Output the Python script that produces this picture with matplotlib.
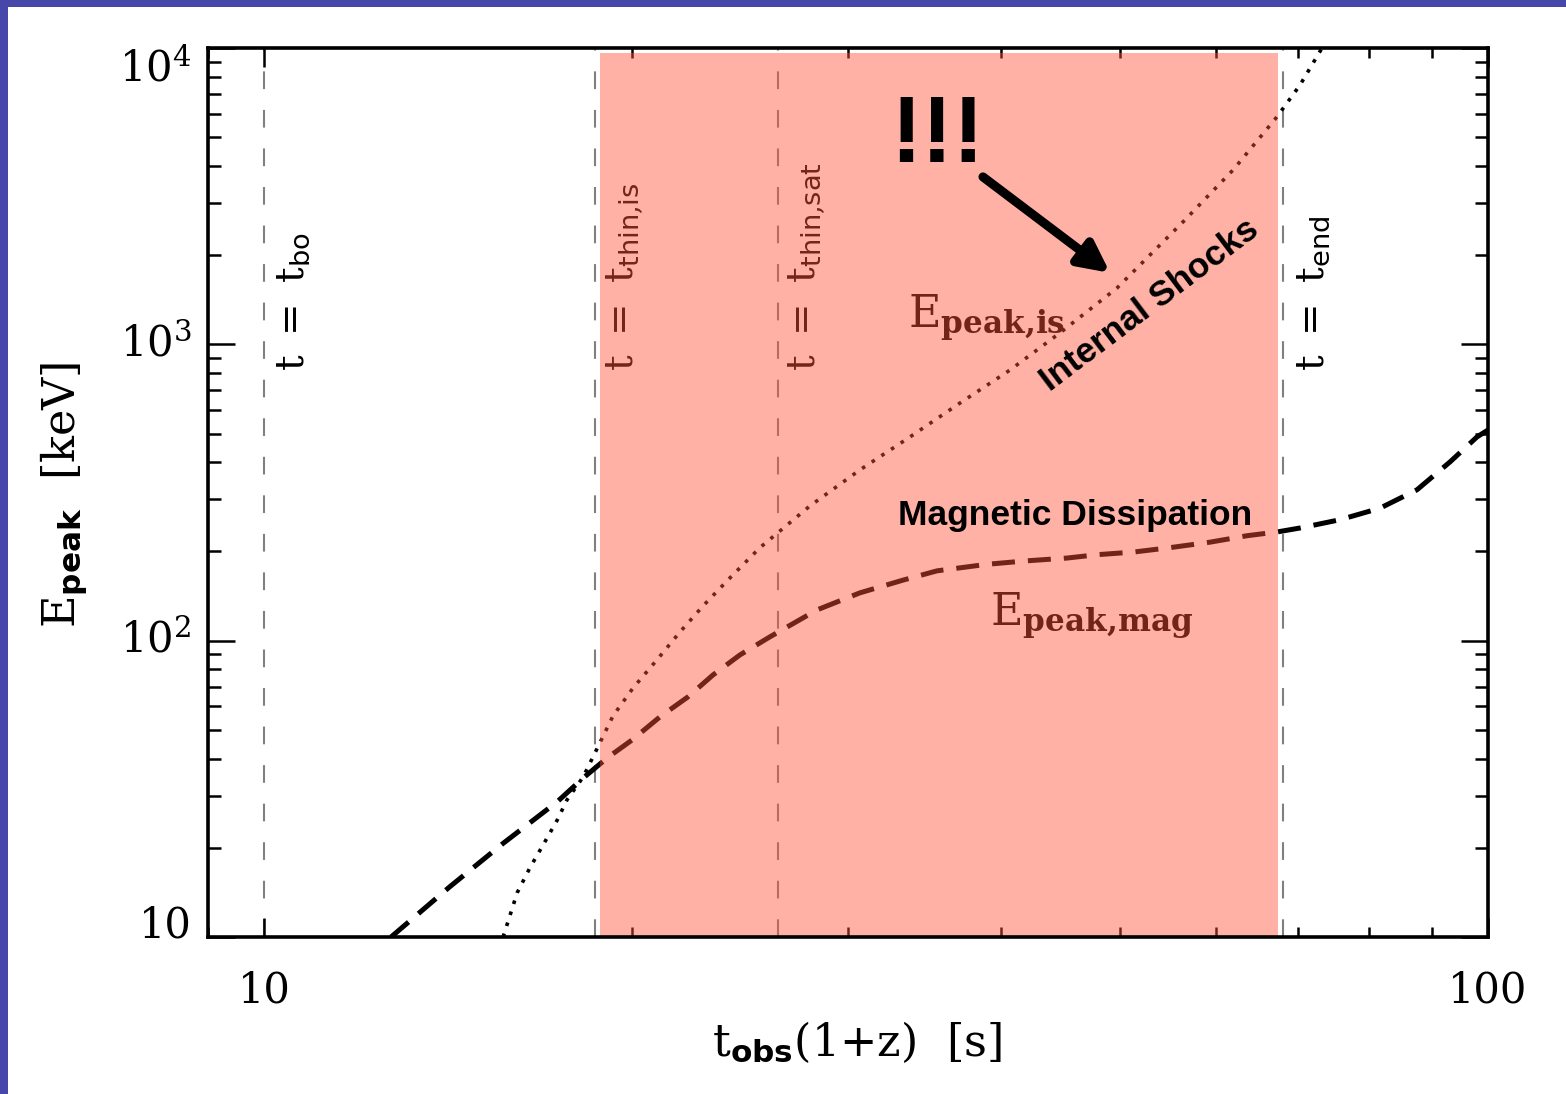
import matplotlib
matplotlib.use("Agg")
import matplotlib.pyplot as plt
import matplotlib.transforms as mtransforms
from matplotlib.patches import Rectangle
from matplotlib.ticker import NullFormatter
import numpy as np

plt.rcParams['mathtext.fontset'] = 'custom'
plt.rcParams['mathtext.rm'] = 'DejaVu Serif'
plt.rcParams['mathtext.bf'] = 'DejaVu Serif:bold'
plt.rcParams['mathtext.sf'] = 'DejaVu Sans:bold'
plt.rcParams['mathtext.it'] = 'DejaVu Sans'
plt.rcParams['mathtext.default'] = 'rm'

# E_peak from magnetic dissipation (dashed)
mag_t = [12.70, 14.19, 15.68, 17.36, 18.23, 19.07, 19.98,
         21.06, 22.20, 23.27, 24.48, 25.90, 28.30, 30.68, 33.26, 35.46, 38.96,
         42.02, 45.29, 47.91, 51.29, 54.97, 59.29, 63.55, 67.36, 70.22, 75.71,
         81.62, 87.50, 93.10, 97.95, 100.0]
mag_E = [10.0, 14.8, 20.7, 28.6, 34.4, 40.2, 46.2,
         55.3, 64.6, 76.6, 89.5, 103, 127, 145, 160, 172, 181,
         186, 190, 195, 199, 206, 215, 226, 233, 240, 256,
         280, 323, 401, 487, 514]

# E_peak from internal shocks (dotted)
is_t = [15.68, 16.10, 16.50, 16.90, 17.36, 17.68, 18.23, 18.72, 19.28, 20.02,
        20.94, 21.87, 22.84, 24.03, 25.42, 27.93, 30.68, 33.71, 37.04, 40.69,
        44.70, 49.77, 56.34, 61.91, 67.23, 70.22, 73.18]
is_E = [10.0, 14.1, 17.2, 20.4, 24.8, 29.0, 34.7, 43.4, 55.7, 69.2,
        86.1, 107, 131, 163, 206, 285, 377, 487, 634, 819,
        1093, 1550, 2589, 3878, 5856, 7506, 10000]

# characteristic times
t_marks = [10.0, 18.65, 26.3, 68.0]
t_names = ['bo', 'thin{,}is', 'thin{,}sat', 'end']
shade_t = [18.8, 67.4]

fig = plt.figure(figsize=(15.66, 10.94), dpi=100)
fig.patches.append(Rectangle((0, 1 - 7 / 1094), 1, 7 / 1094, transform=fig.transFigure,
                             facecolor='#4747A9', edgecolor='none'))
fig.patches.append(Rectangle((0, 0), 8 / 1566, 1, transform=fig.transFigure,
                             facecolor='#4747A9', edgecolor='none'))

ax = fig.add_axes([208 / 1566, 1 - 937 / 1094, 1280 / 1566, 889 / 1094])
ax.set_xscale('log')
ax.set_yscale('log')
ax.set_xlim(9.0, 100)
ax.set_ylim(10, 1e4)

for tm in t_marks:
    ax.axvline(tm, color='#808080', lw=1.5, ls=(0, (8.5, 10)), zorder=1.5)

ax.plot(mag_t, mag_E, color='black', lw=3.6, ls=(0, (4.6, 2.6)), zorder=2)
ax.plot(is_t, is_E, color='black', lw=2.6, ls=(0, (1, 2.2)), zorder=2)

# vertical labels next to each time marker
label_t = [10.56, 19.72, 27.77, 71.9]
for tx, name in zip(label_t, t_names):
    ax.text(tx, 810, r'$\mathrm{t\ =\ t}_{\mathit{%s}}$' % name, rotation=90,
            ha='center', va='bottom', fontsize=28, color='black', zorder=3)

ax.text(33.57, 1136, r'$\mathrm{E}_{\mathbf{peak{,}is}}$', fontsize=32,
        ha='left', va='baseline', zorder=3)
ax.text(39.17, 113, r'$\mathrm{E}_{\mathbf{peak{,}mag}}$', fontsize=32,
        ha='left', va='baseline', zorder=3)

# translucent salmon band over the active interval
ax.fill_between(shade_t, 10, 9600, facecolor='#FF5238', alpha=0.45, lw=0, zorder=4)

bold = dict(family='Liberation Sans', weight='bold', color='black', zorder=7)
ax.text(45.98, 245.8, 'Magnetic Dissipation', fontsize=25.5, ha='center', va='baseline', **bold)
ax.text(52.96, 1358, 'Internal Shocks', fontsize=25.5, ha='center', va='center',
        rotation=37, rotation_mode='anchor', **bold)
ax.text(35.46, 5000, '!!!', fontsize=68, ha='center', va='center', **bold)
ax.annotate('', xy=(49.12, 1742), xytext=(38.67, 3673),
            arrowprops=dict(arrowstyle='-|>', lw=6.5, color='black', mutation_scale=45,
                            shrinkA=0, shrinkB=0), zorder=7)

for sp in ax.spines.values():
    sp.set_linewidth(2.6)
    sp.set_zorder(6)

ax.tick_params(which='both', direction='in', top=True, right=True, width=1.8, color='black')
ax.tick_params(axis='x', which='major', length=14)
ax.tick_params(axis='x', which='minor', length=7)
ax.tick_params(axis='y', which='major', length=19.5)
ax.tick_params(axis='y', which='minor', length=9.5)
ax.xaxis.set_major_formatter(NullFormatter())
ax.xaxis.set_minor_formatter(NullFormatter())
ax.yaxis.set_major_formatter(NullFormatter())
ax.yaxis.set_minor_formatter(NullFormatter())

# tick labels in the IDL style, kept inside the axis range
xticks = [10, 100]
xticklabels = ['10', '100']
yticks = [10, 100, 1000, 10000]
yticklabels = ['10', r'$10^{2}$', r'$10^{3}$', r'$10^{4}$']
xtr = mtransforms.blended_transform_factory(ax.transData, ax.transAxes)
ytr = mtransforms.blended_transform_factory(ax.transAxes, ax.transData)
for v, s in zip(xticks, xticklabels):
    ax.text(v, -0.036, s, transform=xtr, ha='center', va='top', fontsize=30,
            family='DejaVu Serif', clip_on=False)
for v, s in zip(yticks, yticklabels):
    va = 'center'
    if v == yticks[0]:
        va = 'baseline'
    elif v == yticks[-1]:
        va = 'top'
    ax.text(-0.013, v, s, transform=ytr, ha='right', va=va, fontsize=30,
            family='DejaVu Serif', clip_on=False)

ax.text(0.507, -0.093, r'$\mathrm{t}_{\mathsf{obs}}(1{+}\mathrm{z})\ \ [\mathrm{s}]$',
        transform=ax.transAxes, ha='center', va='top', fontsize=32, clip_on=False)
ax.text(-0.112, 0.497, r'$\mathrm{E}_{\mathsf{peak}}\ \ [\mathrm{keV}]$',
        transform=ax.transAxes, ha='center', va='center', rotation=90, fontsize=32,
        clip_on=False)

fig.savefig('out.png', dpi=100)
